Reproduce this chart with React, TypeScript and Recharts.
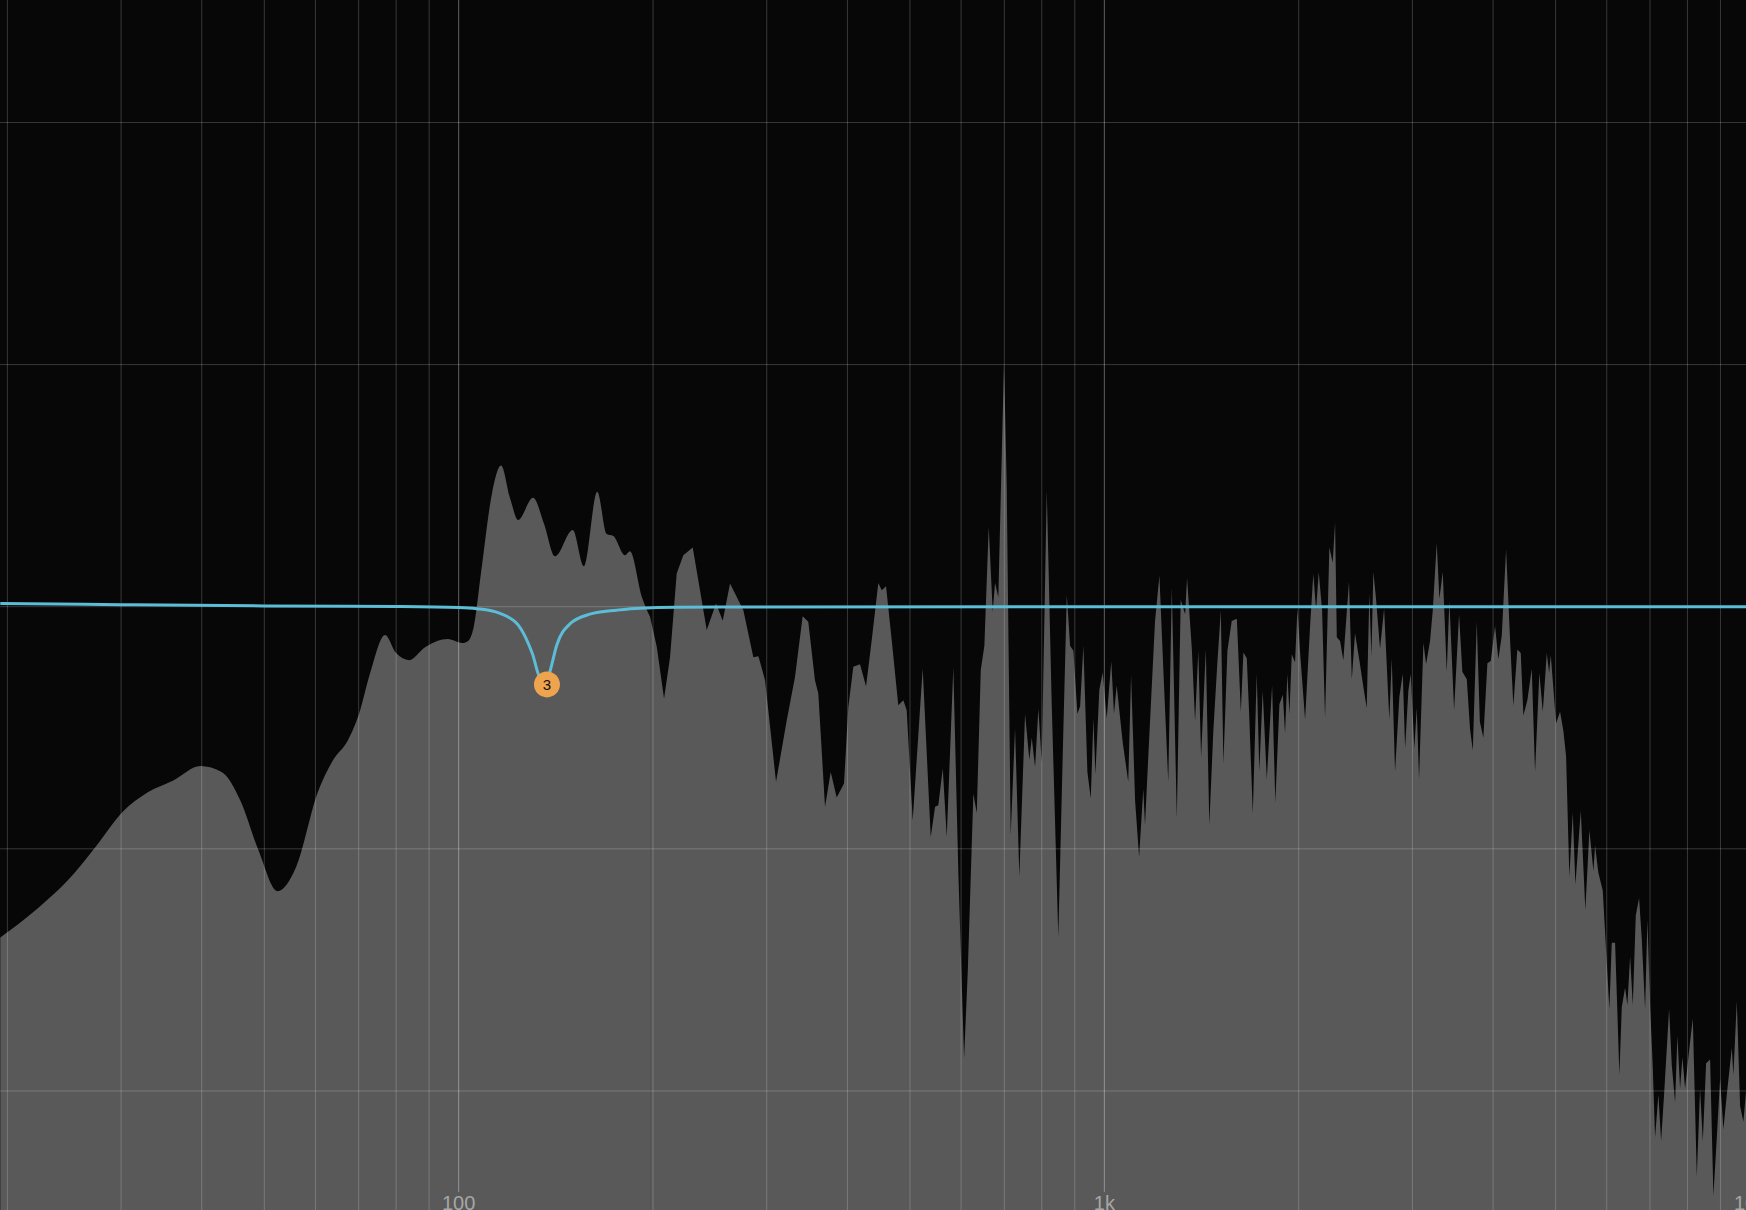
import {
  ComposedChart,
  Area,
  Line,
  Scatter,
  XAxis,
  YAxis,
  ReferenceLine
} from "recharts";

// spectrum, smooth low end (Hz / dB)
const lowFreq = [19.5, 22.2, 25.4, 27.4, 30.1, 33.0, 36.2, 39.8, 43.0, 45.9, 49.0, 52.4, 56.0, 60.5, 63.9, 67.4, 70.1, 72.9, 76.9, 80.0, 83.8, 88.8, 96.2, 101.4, 103.4, 105.5, 108.3, 112.6, 116.3, 120.3, 123.6, 130.4, 135.6, 141.0, 150.2, 156.3, 163.9, 169.5, 173.6, 180.9, 184.2, 192.1, 197.9];
const lowLevel = [-16.4, -15.0, -13.2, -11.9, -10.2, -9.2, -8.6, -7.9, -8.2, -9.6, -12.1, -14.1, -12.9, -9.2, -7.6, -6.6, -5.3, -3.3, -1.4, -2.3, -2.65, -2.0, -1.6, -1.8, -1.7, -1.0, 1.7, 5.6, 7.0, 5.3, 4.3, 5.4, 4.1, 2.5, 3.8, 2.0, 5.7, 3.6, 3.5, 2.55, 2.75, 0.5, -0.5];

// spectrum, jagged upper range (Hz / dB)
const highFreq = [
  197.9, 202.7, 208.0, 212.5, 217.6, 222.8, 230.4, 236.5, 242.2, 250.4, 256.4, 263.2, 276.0, 286.0, 291.2, 298.2,
  310.1, 322.2, 331.8, 341.0, 347.9, 356.3, 360.6, 369.3, 376.9, 385.0, 395.2, 401.3, 408.5, 418.4, 427.5, 436.2,
  446.6, 452.1, 459.1, 468.5, 479.6, 488.3, 494.2, 504.9, 523.2, 538.4, 546.8, 553.2, 562.0, 570.1, 583.6, 594.2,
  606.4, 614.5, 626.8, 634.5, 643.6, 651.9, 662.1, 671.6, 677.2, 685.2, 699.2, 706.0, 716.1, 727.3, 738.5, 753.7,
  765.3, 771.9, 781.1, 790.4, 799.9, 814.4, 828.9, 848.6, 862.3, 874.7, 885.0, 895.5, 908.4, 917.2, 928.0, 941.4,
  952.7, 961.8, 968.6, 982.4, 994.3, 1008.5, 1025, 1035, 1045, 1068, 1089, 1100, 1116, 1132, 1149, 1156,
  1170, 1198, 1217, 1237, 1256, 1272, 1295, 1313, 1334, 1343, 1366, 1382, 1398, 1412, 1436, 1454,
  1475, 1496, 1515, 1529, 1551, 1575, 1604, 1627, 1642, 1662, 1677, 1698, 1722, 1738, 1759, 1785,
  1819, 1840, 1867, 1890, 1905, 1921, 1935, 1951, 1974, 1991, 2010, 2046, 2083, 2107, 2128, 2148,
  2174, 2197, 2231, 2258, 2277, 2291, 2318, 2345, 2368, 2393, 2417, 2445, 2483, 2519, 2549, 2573,
  2592, 2610, 2635, 2673, 2712, 2763, 2787, 2820, 2864, 2899, 2923, 2957, 2983, 3021, 3047, 3072,
  3120, 3150, 3195, 3226, 3272, 3303, 3343, 3391, 3423, 3481, 3543, 3585, 3642, 3685, 3721, 3774,
  3816, 3864, 3920, 3967, 4029, 4076, 4126, 4190, 4250, 4300, 4362, 4415, 4457, 4521, 4592, 4646,
  4718, 4776, 4845, 4885, 4914, 5008, 5080, 5140, 5190, 5251, 5315, 5365, 5469, 5559, 5640, 5721,
  5755, 5823, 5915, 5986, 6056, 6108, 6181, 6232, 6276, 6330, 6405, 6458, 6521, 6584, 6654, 6733,
  6798, 6879, 6936, 7003, 7070, 7128, 7213, 7283, 7361, 7494, 7566, 7656, 7719, 7793, 7858, 7933,
  8057, 8155, 8272, 8369, 8451, 8551, 8674, 8777, 8884, 8989, 9095, 9206, 9372, 9425, 9540, 9653,
  9767, 9862, 10000
];
const highLevel = [
  -0.5, -2.0, -4.55, -2.5, 1.65, 2.55, 2.93, 0.8, -1.16, 0.16, -0.7, 1.15, -0.17, -2.5, -2.45, -3.64,
  -8.68, -5.63, -3.48, -0.47, -0.75, -3.64, -4.3, -9.92, -8.19, -9.46, -8.76, -4.97, -2.98, -2.85, -3.94, -1.66,
  1.18, 0.82, 1.02, -1.66, -4.88, -4.63, -5.13, -10.58, -3.06, -11.41, -9.92, -9.84, -8.02, -11.4, -3.0, -13.24,
  -22.37, -18.04, -9.27, -10.23, -3.14, -1.94, 3.96, -0.25, 1.19, 0.47, 12.13, 6.0, -11.31, -6.02, -13.36, -5.3,
  -7.58, -6.5, -7.95, -5.06, -7.71, 5.76, -4.82, -16.36, -7.21, 0.59, -1.94, -2.18, -5.3, -4.93, -1.94, -8.19,
  -9.51, -5.54, -8.3, -4.1, -3.26, -5.54, -2.7, -5.3, -3.91, -6.75, -8.67, -3.38, -9.63, -12.39, -9.03, -10.83,
  -7.35, -0.73, 1.55, -3.86, -8.67, 0.95, -10.47, 0.35, -0.37, 1.43, -2.06, -5.66, -2.18, -7.46, -2.1, -10.8,
  -6.16, -2.84, -0.18, -7.78, -2.18, -0.71, -0.6, -5.21, -2.27, -2.55, -5.5, -10.25, -3.32, -8.15, -4.17, -8.54,
  -3.89, -9.68, -4.83, -4.36, -6.26, -3.32, -5.31, -2.36, -2.75, -0.09, -2.27, -5.59, -0.94, 1.62, -0.18, 1.72,
  -0.18, -5.5, 2.95, 2.19, 4.19, -1.51, -1.7, -2.65, -0.75, 1.24, -3.6, -1.32, -2.65, -3.98, -5.02, 0.67,
  -2.46, 1.72, 0.39, -2.08, -0.09, -5.59, -2.55, -8.15, -4.45, -3.32, -7.01, -4.17, -3.32, -7.01, -5.02, -8.54,
  -1.79, -2.84, -1.7, -0.18, 3.14, 0.39, 1.72, -3.22, 0.29, -5.12, -0.37, -3.22, -3.6, -6.07, -7.11, -0.75,
  -5.7, -6.5, -2.8, -2.69, -0.96, -2.6, -1.44, 2.85, -1.64, -4.91, -2.12, -2.3, -5.39, -4.62, -3.08, -8.18,
  -3.27, -5.2, -2.3, -3.27, -2.4, -5.77, -5.2, -6.16, -7.41, -13.38, -10.21, -13.77, -10.11, -15.02, -11.07, -13.1,
  -11.84, -13.19, -14.06, -17.05, -19.93, -16.66, -16.66, -20.13, -23.21, -19.84, -18.88, -19.74, -17.34, -19.74, -15.31, -14.44,
  -16.47, -19.93, -15.51, -19.74, -22.83, -26.29, -24.17, -26.49, -24.17, -19.93, -22.73, -24.56, -21.28, -23.88, -22.34, -23.88,
  -21.86, -20.41, -28.21, -23.88, -26.49, -22.63, -22.44, -29.18, -26.29, -23.4, -25.9, -24.17, -21.86, -23.21, -19.55, -24.75,
  -25.52, -23.98, -25.0
];

// EQ response curve (Hz / dB)
const eqFreq = [19.5, 30, 50, 80, 100, 106.7, 115.6, 123.6, 128.5, 130.3, 132.7, 136.5, 138.5, 141.9, 148.7, 159.7, 175.7, 190.9, 250, 1000, 10000];
const eqGain = [0.16, 0.1, 0.04, 0.01, -0.04, -0.1, -0.32, -0.9, -1.9, -2.4, -3.3, -3.85, -3.2, -1.9, -0.85, -0.37, -0.17, -0.07, -0.02, 0, 0];

// band marker
const bandFreq = [137];
const bandGain = [-3.85];
const bandNames = ["3"];

// grid
const minorFreqs = [20, 30, 40, 50, 60, 70, 80, 90, 200, 300, 400, 500, 600, 700, 800, 900, 2000, 3000, 4000, 5000, 6000, 7000, 8000, 9000];
const majorFreqs = [100, 1000, 10000];
const majorLabels = ["100", "1k", "10k"];
const gainLines = [24, 12, 0, -12, -24];

const lowData = lowFreq.map((freq, i) => ({ freq, level: lowLevel[i] }));
const highData = highFreq.map((freq, i) => ({ freq, level: highLevel[i] }));
const eqData = eqFreq.map((freq, i) => ({ freq, gain: eqGain[i] }));
const bandData = bandFreq.map((freq, i) => ({ freq, gain: bandGain[i], name: bandNames[i] }));

const Y_MIN = -29.9;
const Y_MAX = 30.07;

function BandMarker(props: any) {
  const { cx, cy, payload } = props;
  return (
    <g>
      <circle cx={cx} cy={cy} r={13} fill="#eea34f" />
      <text x={cx} y={cy} dy={5.5} textAnchor="middle" fontSize={15} fill="#111" fontFamily="Liberation Sans, Arial, sans-serif">
        {payload.name}
      </text>
    </g>
  );
}

export default function App() {
  return (
    <div style={{ width: 1746, height: 1210, overflow: "hidden", background: "#070707" }}>
      <style>{"body{margin:0;overflow:hidden;background:#070707}"}</style>
      <ComposedChart width={1750} height={1210} margin={{ top: 0, right: 0, bottom: 0, left: 0 }}>
        <XAxis
          dataKey="freq"
          type="number"
          scale="log"
          domain={[19.48, 10000]}
          allowDataOverflow
          hide
        />
        <YAxis type="number" domain={[Y_MIN, Y_MAX]} allowDataOverflow hide />

        {gainLines.map((g) => (
          <ReferenceLine key={`h-${g}`} y={g} stroke="#ffffff" strokeOpacity={0.2} />
        ))}
        {minorFreqs.map((f) => (
          <ReferenceLine key={`v-${f}`} x={f} stroke="#ffffff" strokeOpacity={0.2} />
        ))}
        {majorFreqs.map((f, i) => (
          <ReferenceLine
            key={`m-${f}`}
            segment={[{ x: f, y: Y_MAX }, { x: f, y: -29 }]}
            stroke="#ffffff"
            strokeOpacity={0.36}
            label={{
              value: majorLabels[i],
              position: "bottom",
              offset: 4,
              fill: "#a6a6a6",
              fontSize: 20,
              fontFamily: "Liberation Sans, Arial, sans-serif"
            }}
          />
        ))}

        {/* analyser spectrum: smooth below 200 Hz, raw above */}
        <Area
          data={lowData}
          dataKey="level"
          type="monotone"
          baseValue="dataMin"
          stroke="none"
          fill="#808080"
          fillOpacity={0.68}
          dot={false}
          activeDot={false}
          isAnimationActive={false}
        />
        <Area
          data={highData}
          dataKey="level"
          type="linear"
          baseValue="dataMin"
          stroke="none"
          fill="#808080"
          fillOpacity={0.68}
          dot={false}
          activeDot={false}
          isAnimationActive={false}
        />

        <Line
          data={eqData}
          dataKey="gain"
          type="monotone"
          stroke="#5cbdd7"
          strokeWidth={3}
          dot={false}
          activeDot={false}
          isAnimationActive={false}
        />
        <Scatter data={bandData} dataKey="gain" shape={BandMarker} isAnimationActive={false} />
      </ComposedChart>
    </div>
  );
}
